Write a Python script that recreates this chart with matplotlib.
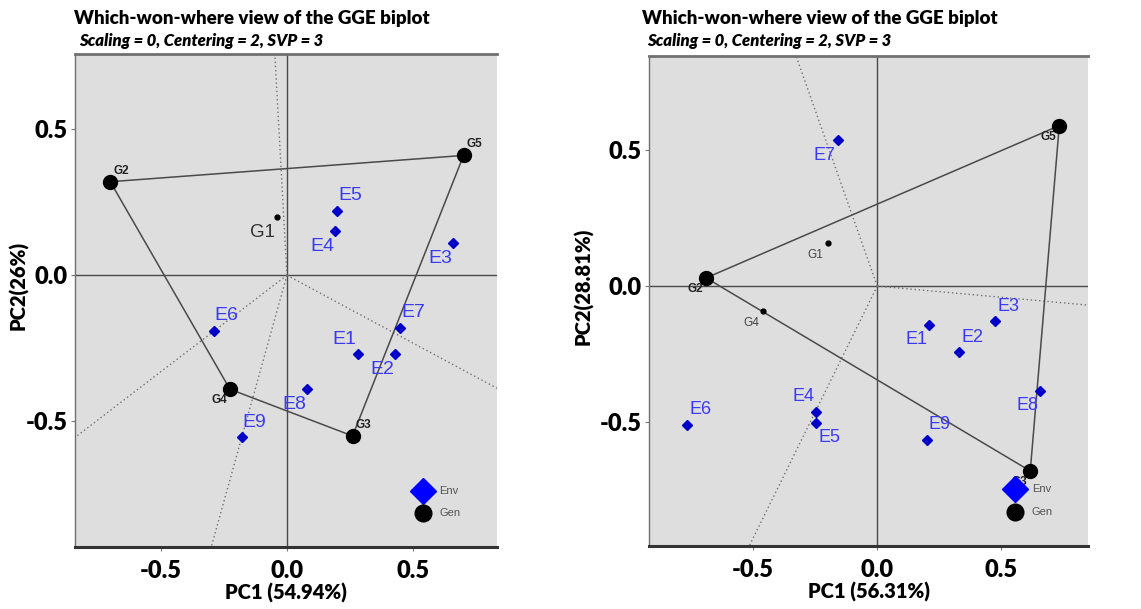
import matplotlib
matplotlib.use("Agg")
import matplotlib.pyplot as plt

plt.rcParams["axes.unicode_minus"] = False

# datos
gen_names = ["G1", "G2", "G3", "G4", "G5"]
env_names = ["E1", "E2", "E3", "E4", "E5", "E6", "E7", "E8", "E9"]

# panel izquierdo
gen_x_a = [-0.04, -0.70, 0.26, -0.226, 0.70]
gen_y_a = [0.20, 0.32, -0.55, -0.39, 0.41]
env_x_a = [0.28, 0.43, 0.66, 0.19, 0.20, -0.29, 0.45, 0.08, -0.18]
env_y_a = [-0.27, -0.27, 0.11, 0.15, 0.22, -0.19, -0.18, -0.39, -0.555]
hull_a = ["G2", "G5", "G3", "G4"]
ray_x_a = [-0.048, 0.833, -0.30, -0.84]
ray_y_a = [0.757, -0.387, -0.93, -0.555]
pc1_a = "PC1 (54.94%)"
pc2_a = "PC2(26%)"

# panel derecho
gen_x_b = [-0.20, -0.69, 0.617, -0.46, 0.734]
gen_y_b = [0.16, 0.03, -0.68, -0.09, 0.59]
env_x_b = [0.21, 0.33, 0.475, -0.246, -0.245, -0.766, -0.16, 0.657, 0.20]
env_y_b = [-0.143, -0.243, -0.13, -0.463, -0.503, -0.51, 0.537, -0.385, -0.566]
hull_b = ["G2", "G5", "G3"]
ray_x_b = [-0.327, 0.85, -0.516]
ray_y_b = [0.846, -0.07, -0.956]
pc1_b = "PC1 (56.31%)"
pc2_b = "PC2(28.81%)"

titulo = "Which-won-where view of the GGE biplot"
subtitulo = "Scaling = 0, Centering = 2, SVP = 3"

# posicion de etiquetas (ur, ul, ll, lr)
env_pos_a = ["ul", "ll", "ll", "ll", "ur", "ur", "ur", "ll", "ur"]
gen_pos_a = ["ll", "ur", "ur", "ll", "ur"]
env_pos_b = ["ll", "ur", "ur", "ul", "lr", "ur", "ll", "ll", "ur"]
gen_pos_b = ["ll", "ll", "ll", "ll", "ll"]

FUENTE = ["Lato", "DejaVu Sans"]
ETIQ = ["Liberation Sans", "DejaVu Sans"]
AZUL_TXT = "#3a3af0"
AZUL_PT = "#0000c8"
FONDO = "#dedede"


def desplaz(pos, dx, dy):
    sx = 1 if pos[1] == "r" else -1
    sy = 1 if pos[0] == "u" else -1
    return (sx * dx, sy * dy)


def panel(fig, rect, gx, gy, ex, ey, hull, rx, ry, gpos, epos, xlab, ylab,
          xlim, ylim, esize, g1_grande, ley_xy, tit_xy, ylab_x):
    ax = fig.add_axes(rect)
    ax.set_facecolor(FONDO)
    ax.set_xlim(xlim)
    ax.set_ylim(ylim)
    ax.axhline(0, color="#4a4a4a", lw=1.0, zorder=1)
    ax.axvline(0, color="#4a4a4a", lw=1.0, zorder=1)

    # rayos punteados
    for x, y in zip(rx, ry):
        ax.plot([0, x], [0, y], ls=(0, (1, 2)), color="#707070", lw=1.0, zorder=1)

    # poligono
    idx = [gen_names.index(g) for g in hull] + [gen_names.index(hull[0])]
    ax.plot([gx[i] for i in idx], [gy[i] for i in idx], color="#4a4a4a", lw=1.1, zorder=2)

    # genotipos
    for i, g in enumerate(gen_names):
        vertice = g in hull
        ms = 10 if vertice else 3.5
        ax.plot(gx[i], gy[i], "o", color="black", ms=ms, zorder=4)
        if vertice:
            off = desplaz(gpos[i], 11, 11)
            ax.annotate(g, (gx[i], gy[i]), xytext=off, textcoords="offset pixels",
                        ha="center", va="center", fontsize=8.5, fontweight="bold",
                        family=ETIQ, color="#222222", zorder=3)
        elif g1_grande and g == "G1":
            off = desplaz(gpos[i], 14, 16)
            ax.annotate(g, (gx[i], gy[i]), xytext=off, textcoords="offset pixels",
                        ha="center", va="center", fontsize=13.5,
                        family=ETIQ, color="#333333", zorder=3)
        else:
            off = desplaz(gpos[i], 12, 12)
            ax.annotate(g, (gx[i], gy[i]), xytext=off, textcoords="offset pixels",
                        ha="center", va="center", fontsize=8.5,
                        family=ETIQ, color="#444444", zorder=3)

    # ambientes
    ax.plot(ex, ey, "D", color=AZUL_PT, ms=5, ls="none", zorder=4)
    for i, e in enumerate(env_names):
        off = desplaz(epos[i], 13, 15)
        ax.annotate(e, (ex[i], ey[i]), xytext=off, textcoords="offset pixels",
                    ha="center", va="center", fontsize=esize,
                    family=ETIQ, color=AZUL_TXT, zorder=3)

    # leyenda
    lx, ly = ley_xy
    ax.plot(lx, ly, "D", color="#0000ff", ms=13, transform=ax.transAxes, zorder=6)
    ax.plot(lx, ly - 0.046, "o", color="black", ms=12, transform=ax.transAxes, zorder=6)
    ax.text(lx + 0.038, ly, "Env", transform=ax.transAxes, fontsize=8, color="#555555",
            va="center", family=ETIQ, zorder=6)
    ax.text(lx + 0.038, ly - 0.046, "Gen", transform=ax.transAxes, fontsize=8,
            color="#555555", va="center", family=ETIQ, zorder=6)

    # marco
    ax.spines["right"].set_visible(False)
    ax.spines["top"].set_color("#707070")
    ax.spines["top"].set_linewidth(2.0)
    ax.spines["left"].set_color("#707070")
    ax.spines["left"].set_linewidth(1.0)
    ax.spines["bottom"].set_color("#333333")
    ax.spines["bottom"].set_linewidth(2.2)

    ax.set_xticks([-0.5, 0.0, 0.5])
    ax.set_yticks([-0.5, 0.0, 0.5])
    ax.tick_params(length=3, color="#777777", width=0.8)
    for t in ax.get_xticklabels() + ax.get_yticklabels():
        t.set_fontfamily(FUENTE)
        t.set_fontweight("heavy")
        t.set_fontsize(17)
    ax.tick_params(axis="x", pad=6)
    ax.tick_params(axis="y", pad=2)

    ax.set_xlabel(xlab, fontsize=14.5, fontweight="heavy", family=FUENTE, labelpad=1)
    ax.set_ylabel(ylab, fontsize=14.5, fontweight="heavy", family=FUENTE)
    ax.yaxis.set_label_coords(ylab_x, 0.53)

    tx, ty = tit_xy
    fig.text(tx, ty, titulo, fontsize=13.5, fontweight="heavy", family=FUENTE, va="center")
    fig.text(tx + 0.004, ty - 0.036, subtitulo, fontsize=12, fontweight="heavy",
             fontstyle="italic", family=FUENTE, va="center")
    return ax


fig = plt.figure(figsize=(11.41, 6.09), dpi=100)

panel(fig, [0.0657, 0.1018, 0.370, 0.8095], gen_x_a, gen_y_a, env_x_a, env_y_a,
      hull_a, ray_x_a, ray_y_a, gen_pos_a, env_pos_a, pc1_a, pc2_a,
      (-0.84, 0.833), (-0.93, 0.757), 14, True, (0.825, 0.114),
      (0.065, 0.969), -0.11)

panel(fig, [0.5688, 0.1034, 0.3848, 0.8046], gen_x_b, gen_y_b, env_x_b, env_y_b,
      hull_b, ray_x_b, ray_y_b, gen_pos_b, env_pos_b, pc1_b, pc2_b,
      (-0.92, 0.85), (-0.956, 0.846), 13, False, (0.834, 0.116),
      (0.563, 0.969), -0.125)

plt.savefig("out.png", dpi=100)
